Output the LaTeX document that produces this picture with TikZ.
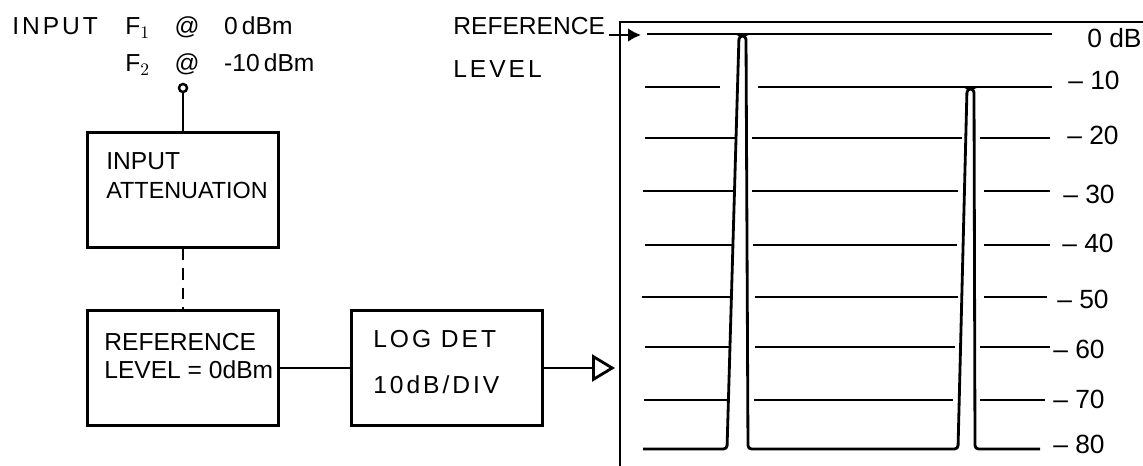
\documentclass[tikz,border=0pt]{standalone}
\usepackage{fontspec}
\setmainfont{Liberation Sans}
\usetikzlibrary{arrows.meta,positioning}

\begin{document}
\begin{tikzpicture}[x=0.02cm,y=-0.02cm,
  blk/.style={draw, line width=1.6pt, minimum width=3.82cm, minimum height=2.3cm},
  txt/.style={anchor=base west, font=\fontsize{14}{16}\selectfont},
  widetxt/.style={txt, font=\fontsize{14}{16}\selectfont\addfontfeature{LetterSpace=12}},
  scl/.style={anchor=base west, font=\fontsize{15}{17}\selectfont},
  grat/.style={line width=1.2pt},
  wire/.style={line width=1.6pt}]
\tikzstyle{every node}+=[inner sep=0pt]
\useasboundingbox (0,0) rectangle (1143,466);
% input text
\node[widetxt] (inlbl) at (12,35) {INPUT};
\node[txt] (f1lbl) at (125,35) {F$_1$\quad @\quad 0\,dBm};
\node[txt] (f2lbl) at (125,72) {F$_2$\quad @\quad -10\,dBm};
% blocks
\node[draw, circle, line width=1.4pt, minimum size=1.6mm] (inp) at (183,88) {};
\node[blk] (att) at (183,190) {};
\node[txt] (attlbl) at (106,170) {INPUT};
\node[txt, font=\fontsize{13.3}{16}\selectfont] (attlbl2) at (106,198) {ATTENUATION};
\node[blk] (rlev) at (183,368) {};
\node[txt] (rlevlbl) at (104,350) {REFERENCE};
\node[txt] (rlevlbl2) at (104,378) {LEVEL = 0dBm};
\node[blk] (logdet) at (447,368) {};
\node[widetxt] (loglbl) at (373,347) {LOG\ DET};
\node[widetxt] (loglbl2) at (373,393) {10dB/DIV};
\coordinate (outtip) at (615,368);
\draw[wire] (inp.south) -- (att.north);
\draw[wire, dash pattern=on 6.5pt off 4.5pt] (att.south) -- (rlev.north);
\draw[wire] (rlev.east) -- (logdet.west);
\draw[wire, -{Triangle[open, length=4.6mm, width=5.4mm]}] (logdet.east) -- (outtip);
% reference level pointer
\node[txt] (reflbl) at (453,35) {REFERENCE};
\node[widetxt] (reflbl2) at (453,78) {LEVEL};
\coordinate (refpt) at (641,35);
\draw[wire, -{Latex[length=2.6mm, width=2.8mm]}, shorten <=2pt] (reflbl.base east) -- (refpt);
% screen
\draw[wire] (620,466) -- (620,22) -- (1143,22);
\draw[grat] (647,34) -- (1052,34);
\draw[grat] (645,87) -- (720,87);
\draw[grat] (758,87) -- (1052,87);
\draw[grat] (645,138) -- (735,138);
\draw[grat] (752,138) -- (962,138);
\draw[grat] (980,138) -- (1050,138);
\draw[grat] (643,191) -- (733,191);
\draw[grat] (752,191) -- (958,191);
\draw[grat] (984,191) -- (1050,191);
\draw[grat] (645,245) -- (732,245);
\draw[grat] (753,245) -- (957,245);
\draw[grat] (984,245) -- (1050,245);
\draw[grat] (642,297) -- (730,297);
\draw[grat] (755,297) -- (958,297);
\draw[grat] (984,297) -- (1047,297);
\draw[grat] (645,347) -- (729,347);
\draw[grat] (755,347) -- (955,347);
\draw[grat] (980,347) -- (1050,347);
\draw[grat] (644,400) -- (727,400);
\draw[grat] (754,400) -- (953,400);
\draw[grat] (980,400) -- (1045,400);
% trace with the two signals
\draw[wire, rounded corners=2pt] (643,449) -- (727,449) -- (739,36) -- (746,36) -- (748,449)
  -- (958,449) -- (967,89) -- (974,89) -- (975,449) -- (1040,449);
% scale
\node[scl] (db0) at (1087,48) {0 dB};
\node[scl] (db10) at (1068,90) {– 10};
\node[scl] (db20) at (1067,145) {– 20};
\node[scl] (db30) at (1063,203) {– 30};
\node[scl] (db40) at (1062,252) {– 40};
\node[scl] (db50) at (1057,308) {– 50};
\node[scl] (db60) at (1053,358) {– 60};
\node[scl] (db70) at (1053,408) {– 70};
\node[scl] (db80) at (1053,453) {– 80};
\end{tikzpicture}
\end{document}
